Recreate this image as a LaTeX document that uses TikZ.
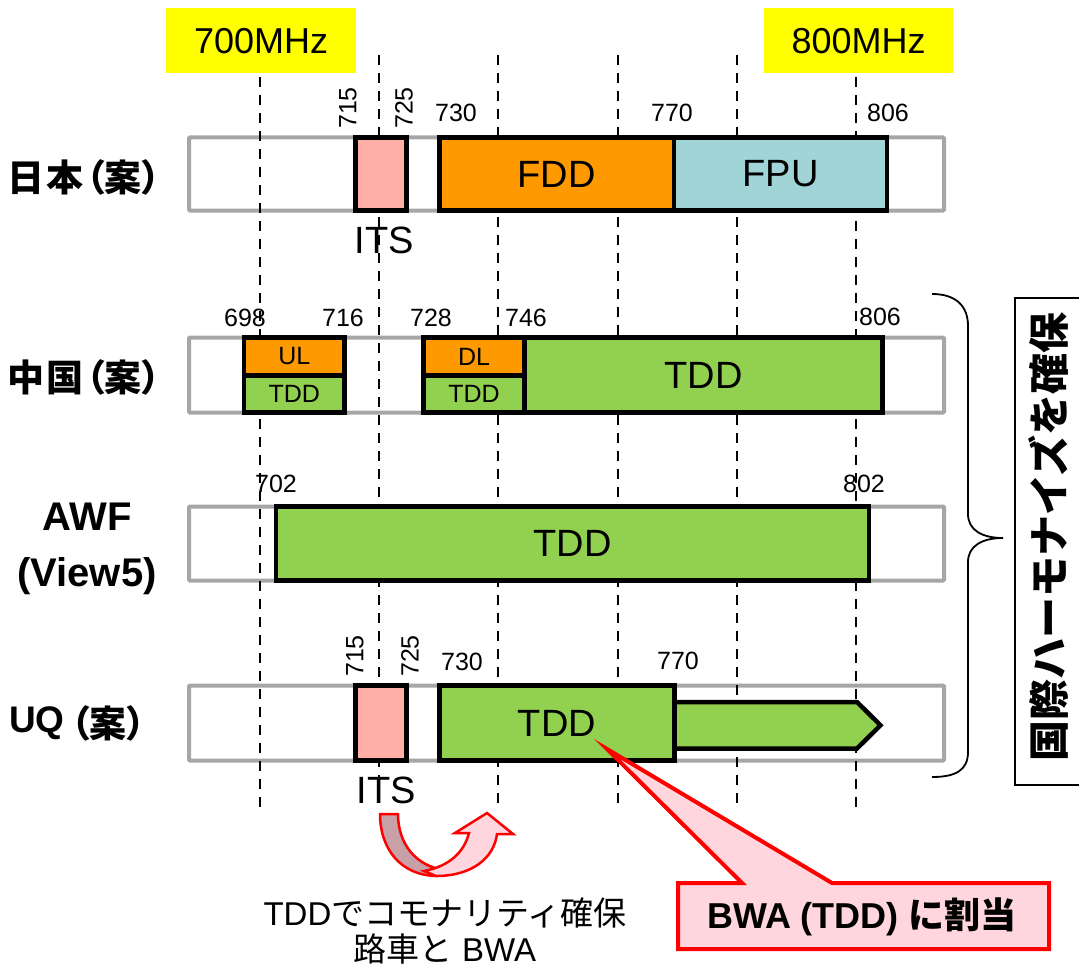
\documentclass[tikz,border=0pt]{standalone}
\usepackage{fontspec}
\setmainfont{Liberation Sans}
\newfontfamily\jp{Noto Sans CJK JP}
\newfontfamily\jpp{Noto Sans CJK JP}[RawFeature=+palt]
\definecolor{orng}{HTML}{FF9900}
\definecolor{grn}{HTML}{92D050}
\definecolor{itspink}{HTML}{FFAFA5}
\definecolor{fpu}{HTML}{A0D4D6}
\definecolor{frm}{HTML}{A6A6A6}
\definecolor{calloutpink}{HTML}{FFD6DE}
\definecolor{backpink}{HTML}{C8A0A8}
\definecolor{ylw}{HTML}{FFFF00}
\begin{document}
\begin{tikzpicture}[x=1pt,y=-1pt,
  fs/.style={font=\fontsize{#1}{#1}\selectfont},
  rowframe/.style={draw=frm,line width=4pt,rounded corners=1pt},
  band/.style={draw=black,line width=4.5pt,inner sep=0pt,outer sep=0pt,anchor=north west},
  num/.style={inner sep=0pt,fs=25},
  rnum/.style={inner sep=0pt,fs=25,rotate=90},
  guide/.style={line width=1.8pt,dash pattern=on 10pt off 8pt},
  rowlabel/.style={inner sep=0pt,anchor=west},
  ylabel/.style={fill=ylw,inner sep=0pt,anchor=north west,fs=36}
]
\useasboundingbox (0,0) rectangle (1079,971);
% yellow labels
\node[ylabel,minimum width=190pt,minimum height=65pt] (y700) at (166,8) {700MHz};
\node[ylabel,minimum width=189pt,minimum height=65pt] (y800) at (764,8) {800MHz};
% row frames
\draw[rowframe] (189,137.5) rectangle (944,210.5);
\draw[rowframe] (189,337.5) rectangle (944,412.5);
\draw[rowframe] (189,506.5) rectangle (944,580.5);
\draw[rowframe] (189,685.5) rectangle (944,760.5);
% dashed guides
\draw[guide] (260,77) -- (260,810);
\draw[guide] (379,55) -- (379,810);
\draw[guide] (498,55) -- (498,810);
\draw[guide] (618,55) -- (618,810);
\draw[guide] (737,55) -- (737,810);
\draw[guide] (856,77) -- (856,810);
% row labels
\node[rowlabel] (lj) at (7,177) {\jpp\bfseries\fontsize{37}{37}\selectfont 日\kern2pt本\kern3pt（案）};
\node[rowlabel] (lc) at (7,377) {\jpp\bfseries\fontsize{37}{37}\selectfont 中\kern2pt国\kern3pt（案）};
\node[inner sep=0pt,align=center,font=\bfseries\fontsize{40}{56}\selectfont] (la) at (87,549) {AWF\\(View5)};
\node[rowlabel,font=\bfseries\fontsize{37}{37}\selectfont] (lu) at (9,723) {UQ};
\node[rowlabel] (lu2) at ([xshift=6pt]lu.east) {\jpp\bfseries\fontsize{37}{37}\selectfont（案）};
% row 1 Japan
\node[band,fill=itspink,minimum width=51pt,minimum height=73pt] (its1) at (355.5,137.5) {};
\node[band,fill=orng,minimum width=234.5pt,minimum height=73pt,fs=38] (fdd1) at (439.5,137.5) {FDD};
\node[band,fill=fpu,minimum width=213pt,minimum height=73pt,fs=38] (fpu1) at (674,137.5) {FPU};
\node[rnum] (n715a) at (348,108) {715};
\node[rnum] (n725a) at (404,108) {725};
\node[num] (n730a) at (456,113) {730};
\node[num] (n770a) at (672,113) {770};
\node[num] (n806a) at (888,113) {806};
\node[inner sep=0pt,fs=38] (itsl1) at (384,240) {ITS};
% row 2 China
\node[band,fill=orng,minimum width=100.5pt,minimum height=38pt,fs=25] (ul) at (244,337.5) {UL};
\node[band,fill=grn,minimum width=100.5pt,minimum height=37pt,fs=25] (tddul) at (244,375.5) {TDD};
\node[band,fill=orng,minimum width=101pt,minimum height=38pt,fs=25] (dl) at (423.5,337.5) {DL};
\node[band,fill=grn,minimum width=101pt,minimum height=37pt,fs=25] (tdddl) at (423.5,375.5) {TDD};
\node[band,fill=grn,minimum width=358pt,minimum height=75pt,fs=38] (tddc) at (524.5,337.5) {TDD};
\node[num] (n698) at (245,318) {698};
\node[num] (n716) at (343,318) {716};
\node[num] (n728) at (431,318) {728};
\node[num] (n746) at (526,318) {746};
\node[num] (n806b) at (880,317) {806};
% row 3 AWF
\node[band,fill=grn,minimum width=593pt,minimum height=74pt,fs=38] (tdda) at (276,506.5) {TDD};
\node[num] (n702) at (276,484) {702};
\node[num] (n802) at (864,484) {802};
% row 4 UQ
\draw[draw=black,line width=4.5pt,fill=grn,line join=miter] (660,702) -- (857,702) -- (880.5,725.25) -- (857,748.5) -- (660,748.5) -- cycle;
\node[band,fill=itspink,minimum width=51pt,minimum height=75pt] (its4) at (355.5,685.5) {};
\node[band,fill=grn,minimum width=235pt,minimum height=75pt,fs=38] (tddu) at (439.5,685.5) {TDD};
\node[rnum] (n715b) at (355,656) {715};
\node[rnum] (n725b) at (410,656) {725};
\node[num] (n730b) at (462,662) {730};
\node[num] (n770b) at (678,661) {770};
\node[inner sep=0pt,fs=38] (itsl4) at (386,790) {ITS};
% brace
\draw[line width=1.8pt] (932,294) .. controls (956,294) and (968,306) .. (968,326) -- (968,514)
  .. controls (968,530) and (982,538) .. (1003,538)
  .. controls (982,538) and (968,546) .. (968,562) -- (968,752)
  .. controls (968,770) and (956,777) .. (932,777);
% vertical text box
\draw[line width=1.8pt] (1082,298) -- (1015,298) -- (1015,785) -- (1082,785);
\node[rotate=90,inner sep=0pt] (harm) at (1048,537) {\jp\bfseries\fontsize{41}{41}\selectfont 国際ハーモナイズを確保};
% curved U-turn arrow
\draw[red,line width=2.5pt,fill=backpink,line join=round]
  (380,814) -- (398,814) .. controls (398,844) and (416,866) .. (444,870)
  -- (438,876) .. controls (400,876) and (380,848) .. (380,814) -- cycle;
\draw[red,line width=2.5pt,fill=calloutpink,line join=miter]
  (436,876) .. controls (472,876) and (494,858) .. (497,834) -- (513,834) -- (487,813) -- (455,833) -- (469,833)
  .. controls (464,852) and (450,866) .. (424,871) -- cycle;
\node[inner sep=0pt,align=center,fs=33] (note) at (445,931) {TDD{\jp でコモナリティ確保}\\[3pt]{\jp 路車と} BWA};
% callout
\draw[red,line width=4pt,fill=calloutpink,line join=miter]
  (678,883) -- (742,883) -- (607,749) -- (832,883) -- (1049,883) -- (1049,949) -- (678,949) -- cycle;
\node[inner sep=0pt,font=\bfseries\fontsize{36}{36}\selectfont] (callout) at (862,917) {BWA (TDD) {\jp に割当}};
\end{tikzpicture}
\end{document}
